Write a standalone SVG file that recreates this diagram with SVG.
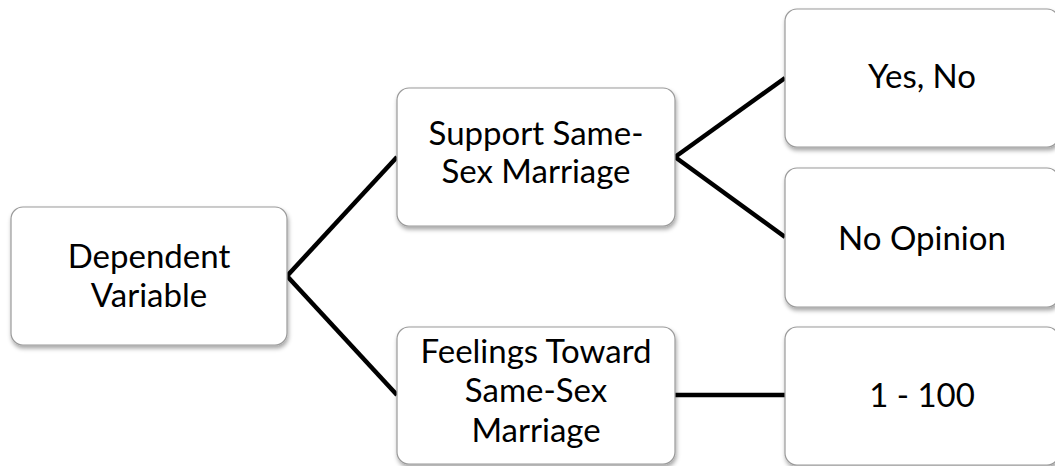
<svg xmlns="http://www.w3.org/2000/svg" width="1055" height="466" viewBox="0 0 1055 466">
<defs>
<filter id="sh" x="-10%" y="-10%" width="125%" height="130%">
<feDropShadow dx="1" dy="3" stdDeviation="2" flood-color="#000" flood-opacity="0.35"/>
</filter>
</defs>
<style>
.box{fill:#fff;stroke:#9a9a9a;stroke-width:1.2;filter:url(#sh)}
.t{font-family:Lato,"Open Sans",sans-serif;font-size:33px;fill:#000;text-anchor:middle}
.c{stroke:#000;stroke-width:4.5;fill:none;stroke-linecap:butt}
</style>
<rect width="1055" height="466" fill="#fff"/>
<g id="connectors">
<line class="c" x1="287" y1="276" x2="397" y2="157"/>
<line class="c" x1="287" y1="276" x2="397" y2="395"/>
<line class="c" x1="675" y1="157" x2="785" y2="78"/>
<line class="c" x1="675" y1="157" x2="785" y2="237"/>
<line class="c" x1="675" y1="395" x2="785" y2="395"/>
</g>
<g id="n-dependent">
<rect class="box" x="11" y="207" width="276" height="138" rx="12"/>
<text class="t" x="149" y="268">Dependent</text>
<text class="t" x="149" y="307">Variable</text>
</g>
<g id="n-support">
<rect class="box" x="397" y="88" width="278" height="138" rx="12"/>
<text class="t" x="536" y="145">Support Same-</text>
<text class="t" x="536" y="183">Sex Marriage</text>
</g>
<g id="n-feelings">
<rect class="box" x="397" y="327" width="278" height="137" rx="12"/>
<text class="t" x="536" y="363">Feelings Toward</text>
<text class="t" x="536" y="402">Same-Sex</text>
<text class="t" x="536" y="442">Marriage</text>
</g>
<g id="n-yesno">
<rect class="box" x="785" y="9" width="274" height="138" rx="12"/>
<text class="t" x="922" y="88">Yes, No</text>
</g>
<g id="n-noopinion">
<rect class="box" x="785" y="168" width="274" height="139" rx="12"/>
<text class="t" x="922" y="250">No Opinion</text>
</g>
<g id="n-range">
<rect class="box" x="785" y="327" width="274" height="138" rx="12"/>
<text class="t" x="922" y="407">1 - 100</text>
</g>
</svg>
